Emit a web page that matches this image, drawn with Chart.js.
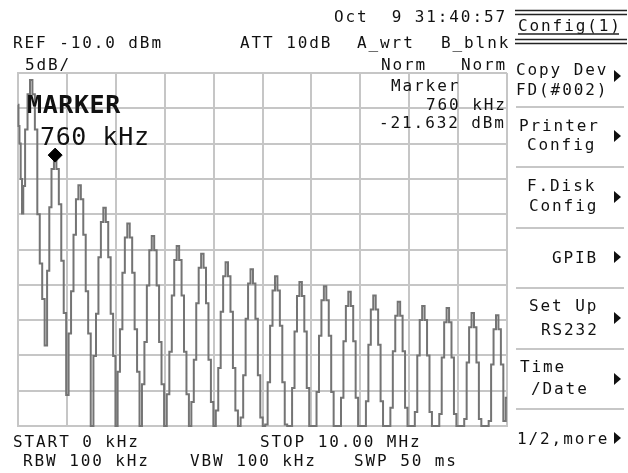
<!DOCTYPE html>
<html>
<head>
<meta charset="utf-8">
<script src="https://cdn.jsdelivr.net/npm/chart.js@4.4.1/dist/chart.umd.min.js"></script>
<style>
  html, body { margin: 0; padding: 0; background: #fff; }
  #wrap { position: relative; width: 628px; height: 473px; }
</style>
</head>
<body>
<div id="wrap"><canvas id="spec"></canvas></div>
<script>
// sweep: 0 .. 10 MHz, REF -10 dBm, 5 dB/div
const startMHz = 0;
const stopMHz = 10;
const refLevel = -10;
const dbPerDiv = 5;

// trace, [MHz, dBm], one lobe per row
const tracePoints = [
  [0.00, -14.5], [0.02, -17.5], [0.04, -20.0], [0.07, -25.0], [0.095, -29.9],
  [0.12, -26.0], [0.17, -18.0], [0.22, -13.0], [0.27, -11.0], [0.32, -13.0], [0.37, -18.0], [0.42, -30.0], [0.47, -37.0], [0.52, -42.0], [0.57, -48.6],
  [0.62, -38.0], [0.66, -29.0], [0.71, -23.6], [0.76, -21.6], [0.81, -23.6], [0.86, -28.6], [0.91, -36.6], [0.96, -44.0], [1.01, -55.6],
  [1.06, -46.9], [1.11, -40.9], [1.16, -32.9], [1.21, -27.9], [1.26, -25.9], [1.31, -27.9], [1.36, -32.9], [1.41, -40.9], [1.46, -46.9], [1.515, -60],
  [1.57, -50.1], [1.62, -44.1], [1.67, -36.1], [1.72, -31.1], [1.77, -29.1], [1.82, -31.1], [1.87, -36.1], [1.92, -44.1], [1.97, -50.1], [2.015, -60],
  [2.06, -52.3], [2.11, -46.3], [2.16, -38.3], [2.21, -33.3], [2.26, -31.3], [2.31, -33.3], [2.36, -38.3], [2.41, -46.3], [2.46, -52.3], [2.51, -60],
  [2.56, -54.1], [2.61, -48.1], [2.66, -40.1], [2.71, -35.1], [2.76, -33.1], [2.81, -35.1], [2.86, -40.1], [2.91, -48.1], [2.96, -54.1], [3.015, -60],
  [3.07, -55.5], [3.12, -49.5], [3.17, -41.5], [3.22, -36.5], [3.27, -34.5], [3.32, -36.5], [3.37, -41.5], [3.42, -49.5], [3.47, -55.5], [3.52, -60],
  [3.57, -56.6], [3.62, -50.6], [3.67, -42.6], [3.72, -37.6], [3.77, -35.6], [3.82, -37.6], [3.87, -42.6], [3.92, -50.6], [3.97, -56.6], [4.02, -60],
  [4.07, -57.8], [4.12, -51.8], [4.17, -43.8], [4.22, -38.8], [4.27, -36.8], [4.32, -38.8], [4.37, -43.8], [4.42, -51.8], [4.47, -57.8], [4.525, -60],
  [4.58, -58.8], [4.63, -52.8], [4.68, -44.8], [4.73, -39.8], [4.78, -37.8], [4.83, -39.8], [4.88, -44.8], [4.93, -52.8], [4.98, -58.8], [5.03, -60],
  [5.08, -59.8], [5.13, -53.8], [5.18, -45.8], [5.23, -40.8], [5.28, -38.8], [5.33, -40.8], [5.38, -45.8], [5.43, -53.8], [5.48, -59.8], [5.53, -60],
  [5.58, -60], [5.63, -54.6], [5.68, -46.6], [5.73, -41.6], [5.78, -39.6], [5.83, -41.6], [5.88, -46.6], [5.93, -54.6], [5.98, -60], [6.03, -60],
  [6.08, -60], [6.13, -55.2], [6.18, -47.2], [6.23, -42.2], [6.28, -40.2], [6.33, -42.2], [6.38, -47.2], [6.43, -55.2], [6.48, -60], [6.53, -60],
  [6.58, -60], [6.63, -56.0], [6.68, -48.0], [6.73, -43.0], [6.78, -41.0], [6.83, -43.0], [6.88, -48.0], [6.93, -56.0], [6.98, -60], [7.035, -60],
  [7.09, -60], [7.14, -56.5], [7.19, -48.5], [7.24, -43.5], [7.29, -41.5], [7.34, -43.5], [7.39, -48.5], [7.44, -56.5], [7.49, -60], [7.54, -60],
  [7.59, -60], [7.64, -57.4], [7.69, -49.4], [7.74, -44.4], [7.79, -42.4], [7.84, -44.4], [7.89, -49.4], [7.94, -57.4], [7.99, -60], [8.04, -60],
  [8.09, -60], [8.14, -58.0], [8.19, -50.0], [8.24, -45.0], [8.29, -43.0], [8.34, -45.0], [8.39, -50.0], [8.44, -58.0], [8.49, -60], [8.54, -60],
  [8.59, -60], [8.64, -58.3], [8.69, -50.3], [8.74, -45.3], [8.79, -43.3], [8.84, -45.3], [8.89, -50.3], [8.94, -58.3], [8.99, -60], [9.045, -60],
  [9.10, -60], [9.15, -59.0], [9.20, -51.0], [9.25, -46.0], [9.30, -44.0], [9.35, -46.0], [9.40, -51.0], [9.45, -59.0], [9.50, -60], [9.55, -60],
  [9.60, -60], [9.65, -59.3], [9.70, -51.3], [9.75, -46.3], [9.80, -44.3], [9.85, -46.3], [9.90, -51.3], [9.95, -59.3], [10.00, -56.0]
];

// marker
const markerMHz = [0.76];
const markerDbm = [-21.632];

// screen annotations: [text, x, baseline]
const smallTexts = [
  ['Oct  9 31:40:57', 334, 22],
  ['REF -10.0 dBm', 13, 48],
  ['ATT 10dB', 240, 48],
  ['A_wrt', 357, 48],
  ['B_blnk', 441, 48],
  ['5dB/', 25, 70],
  ['Norm', 381, 70],
  ['Norm', 461, 70],
  ['Marker', 391, 91],
  ['760 kHz', 426, 110],
  ['-21.632 dBm', 379, 128],
  ['START 0 kHz', 13, 447],
  ['STOP 10.00 MHz', 260, 447],
  ['RBW 100 kHz', 23, 466],
  ['VBW 100 kHz', 190, 466],
  ['SWP 50 ms', 354, 466]
];
const bigTexts = [
  ['MARKER', 27, 113, 'bold'],
  ['760 kHz', 40, 145, 'normal']
];

// soft key menu
const menuTitle = 'Config(1)';
const softkeyTexts = [
  ['Copy Dev', 516, 75], ['FD(#002)', 516, 95],
  ['Printer', 519, 131], ['Config', 527, 150],
  ['F.Disk', 527, 191], ['Config', 529, 211],
  ['GPIB', 552, 263],
  ['Set Up', 529, 311], ['RS232', 541, 335],
  ['Time', 520, 372], ['/Date', 531, 394],
  ['1/2,more', 517, 444]
];
const softkeyArrows = [76, 136, 197, 257, 318, 379, 438];
const softkeyLines = [107, 167, 228, 288, 349, 409];

const MONO = '"DejaVu Sans Mono", "Liberation Mono", monospace';

const screenText = {
  id: 'screenText',
  afterDraw(chart) {
    const ctx = chart.ctx;
    ctx.save();
    ctx.fillStyle = '#111';
    ctx.textBaseline = 'alphabetic';
    ctx.textAlign = 'left';

    ctx.font = '16px ' + MONO;
    ctx.letterSpacing = '1.9px';
    smallTexts.forEach(t => ctx.fillText(t[0], t[1], t[2]));
    softkeyTexts.forEach(t => ctx.fillText(t[0], t[1], t[2]));
    ctx.fillText(menuTitle, 518, 31);

    ctx.letterSpacing = '0.6px';
    bigTexts.forEach(t => {
      ctx.font = t[3] + ' 25px ' + MONO;
      ctx.fillText(t[0], t[1], t[2]);
    });

    // menu frame lines
    ctx.strokeStyle = '#222';
    ctx.lineWidth = 1.5;
    [10.5, 14.5, 39.5, 43.5].forEach(y => {
      ctx.beginPath(); ctx.moveTo(515, y); ctx.lineTo(627, y); ctx.stroke();
    });
    ctx.beginPath(); ctx.moveTo(518, 34); ctx.lineTo(619, 34); ctx.stroke();

    ctx.strokeStyle = '#b4b4b4';
    ctx.lineWidth = 1.5;
    softkeyLines.forEach(y => {
      ctx.beginPath(); ctx.moveTo(516, y); ctx.lineTo(624, y); ctx.stroke();
    });

    ctx.fillStyle = '#111';
    softkeyArrows.forEach(y => {
      ctx.beginPath();
      ctx.moveTo(614, y - 6); ctx.lineTo(621, y); ctx.lineTo(614, y + 6);
      ctx.closePath(); ctx.fill();
    });
    ctx.restore();
  }
};

new Chart(document.getElementById('spec'), {
  type: 'line',
  data: {
    datasets: [{
      data: tracePoints.map(p => ({ x: p[0], y: p[1] })),
      borderColor: '#747474',
      borderWidth: 2,
      pointRadius: 0,
      stepped: 'middle',
      clip: 3,
      order: 2
    }, {
      data: markerMHz.map((f, i) => ({ x: f, y: markerDbm[i] })),
      showLine: false,
      pointStyle: 'rectRot',
      pointRadius: 7,
      pointBackgroundColor: '#000',
      pointBorderColor: '#000',
      pointBorderWidth: 1,
      clip: false,
      order: 1
    }]
  },
  options: {
    responsive: true,
    maintainAspectRatio: false,
    animation: false,
    events: [],
    layout: { padding: { left: 18, right: 121, top: 73, bottom: 47 } },
    plugins: { legend: { display: false }, tooltip: { enabled: false } },
    scales: {
      x: {
        type: 'linear', min: startMHz, max: stopMHz,
        ticks: { display: false, stepSize: 1 },
        grid: { color: '#c6c6c6', lineWidth: 2, drawTicks: false, tickLength: 0 },
        border: { color: '#c6c6c6', width: 2 }
      },
      y: {
        min: refLevel - 10 * dbPerDiv, max: refLevel,
        ticks: { display: false, stepSize: dbPerDiv },
        grid: { color: '#c6c6c6', lineWidth: 2, drawTicks: false, tickLength: 0 },
        border: { color: '#c6c6c6', width: 2 }
      }
    }
  },
  plugins: [screenText]
});
</script>
</body>
</html>
